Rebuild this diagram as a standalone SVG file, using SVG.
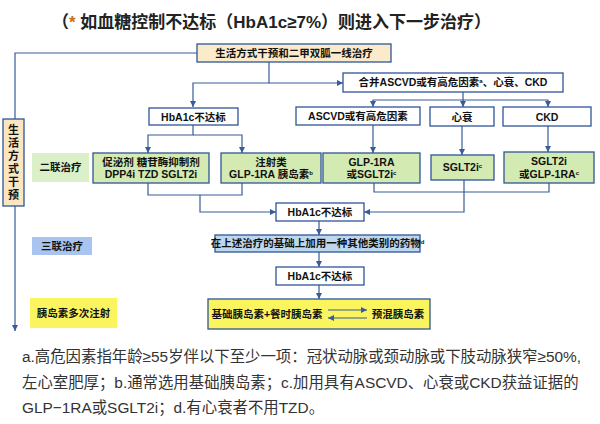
<svg xmlns="http://www.w3.org/2000/svg" width="600" height="424" viewBox="0 0 600 424">
<defs>
<style>
.bx{stroke:#2F5597;stroke-width:1.3}
.w{fill:#fff}
.g{fill:#D3EAB3}
.t{font-family:"Liberation Sans","Noto Sans CJK SC",sans-serif;font-weight:bold;font-size:10.5px;fill:#111;text-anchor:middle}
.v{font-size:11px}
.s{font-size:6px}
.c{fill:none;stroke:#3A5A98;stroke-width:1.2}
.fn{font-family:"Liberation Sans","Noto Sans CJK SC",sans-serif;font-size:15.4px;fill:#333}
</style>
<marker id="ah" markerUnits="userSpaceOnUse" markerWidth="6" markerHeight="6" refX="6" refY="3" orient="auto">
<path d="M0,0 L6,3 L0,6 z" fill="#3A5A98"/>
</marker>
</defs>
<rect width="600" height="424" fill="#fff"/>
<text x="52" y="28" font-family="Liberation Sans,Noto Sans CJK SC,sans-serif" font-weight="bold" font-size="17" fill="#222">（<tspan fill="#C07020">*</tspan> 如血糖控制不达标（HbA1c≥7%）则进入下一步治疗）</text>

<g id="connectors" class="c">
<path d="M197,53 H15 V119"/>
<path d="M15,206 V331" marker-end="url(#ah)"/>
<path d="M269,61 V83 H193 V107" marker-end="url(#ah)"/>
<path d="M269,83 H343" marker-end="url(#ah)"/>
<path d="M193,125 V135 H148 V153" marker-end="url(#ah)"/>
<path d="M193,135 H242 V153" marker-end="url(#ah)"/>
<path d="M148,183 V195 H242 V183"/>
<path d="M200,195 V212 H276" marker-end="url(#ah)"/>
<path d="M463,92 V100 H373 V107" marker-end="url(#ah)"/>
<path d="M463,100 V107" marker-end="url(#ah)"/>
<path d="M463,100 H548 V107" marker-end="url(#ah)"/>
<path d="M373,125 V153" marker-end="url(#ah)"/>
<path d="M462,126 V155" marker-end="url(#ah)"/>
<path d="M548,126 V152" marker-end="url(#ah)"/>
<path d="M374,183 V192 H549 V183"/>
<path d="M464,180 V212 H364" marker-end="url(#ah)"/>
<path d="M319,221 V235" marker-end="url(#ah)"/>
<path d="M319,252 V267" marker-end="url(#ah)"/>
<path d="M319,285 V299" marker-end="url(#ah)"/>
</g>

<g id="n-top"><rect class="bx" x="197" y="44" width="194" height="18" fill="#FCEBCB"/><text class="t" x="294" y="57">生活方式干预和二甲双胍一线治疗</text></g>
<g id="n-life"><rect class="bx" x="3" y="119" width="21" height="87" fill="#FBE6C2"/>
<text class="t v" x="13.5" y="134">生</text><text class="t v" x="13.5" y="147">活</text><text class="t v" x="13.5" y="160">方</text><text class="t v" x="13.5" y="173">式</text><text class="t v" x="13.5" y="186">干</text><text class="t v" x="13.5" y="199">预</text></g>

<g id="n-hb1"><rect class="bx w" x="149" y="108" width="89" height="17"/><text class="t" x="193.5" y="120.5">HbA1c不达标</text></g>
<g id="n-risk"><rect class="bx w" x="343" y="73" width="220" height="19"/><text class="t" x="453" y="86">合并ASCVD或有高危因素<tspan class="s" dy="-3">a</tspan><tspan dy="3">、心衰、CKD</tspan></text></g>
<g id="n-ascvd"><rect class="bx w" x="296" y="107" width="124" height="18"/><text class="t" x="358" y="120">ASCVD或有高危因素</text></g>
<g id="n-hf"><rect class="bx w" x="430" y="107" width="64" height="19"/><text class="t" x="462" y="120.5">心衰</text></g>
<g id="n-ckd"><rect class="bx w" x="503" y="107" width="88" height="19"/><text class="t" x="547" y="120.5">CKD</text></g>

<g id="lbl-2"><rect x="32" y="153" width="57" height="29" fill="#D9F0C9"/><text class="t" x="60.5" y="171" font-weight="normal" font-size="10">二联治疗</text></g>
<g id="n-oral"><rect class="bx g" x="93" y="153" width="116" height="30"/><text class="t" x="151" y="166">促泌剂 糖苷酶抑制剂</text><text class="t" x="151" y="178">DPP4i TZD SGLT2i</text></g>
<g id="n-inj"><rect class="bx g" x="221" y="153" width="100" height="30"/><text class="t" x="271" y="166">注射类</text><text class="t" x="271" y="178">GLP-1RA 胰岛素<tspan class="s" dy="-3">b</tspan></text></g>
<g id="n-glp"><rect class="bx g" x="323" y="153" width="97" height="30"/><text class="t" x="371.5" y="166">GLP-1RA</text><text class="t" x="371.5" y="178">或SGLT2i<tspan class="s" dy="-3">c</tspan></text></g>
<g id="n-sglt"><rect class="bx g" x="431" y="155" width="63" height="25"/><text class="t" x="462.5" y="171">SGLT2i<tspan class="s" dy="-3">c</tspan></text></g>
<g id="n-ckdg"><rect class="bx g" x="504" y="152" width="90" height="31"/><text class="t" x="549" y="165">SGLT2i</text><text class="t" x="549" y="178">或GLP-1RA<tspan class="s" dy="-3">c</tspan></text></g>

<g id="n-hb2"><rect class="bx w" x="276" y="203" width="88" height="18"/><text class="t" x="320" y="216">HbA1c不达标</text></g>
<g id="lbl-3"><rect x="32" y="237" width="60" height="18" fill="#A9C4EE"/><text class="t" x="62" y="249.5" font-weight="normal" font-size="10">三联治疗</text></g>
<g id="n-add"><rect class="bx" x="215" y="235" width="205" height="17" fill="#BDD7EE"/><text class="t" x="317.5" y="247.3" font-size="8.8">在上述治疗的基础上加用一种其他类别的药物<tspan class="s" dy="-3">d</tspan></text></g>
<g id="n-hb3"><rect class="bx w" x="276" y="267" width="88" height="18"/><text class="t" x="320" y="280">HbA1c不达标</text></g>
<g id="lbl-ins"><rect x="30" y="298" width="87" height="30" fill="#FAF55E"/><text class="t" x="73.5" y="317" font-weight="normal" font-size="10">胰岛素多次注射</text></g>
<g id="n-ins"><rect class="bx" x="208" y="299" width="222" height="30" fill="#FAF55E"/>
<text class="t" x="267" y="317.5" font-size="10">基础胰岛素+餐时胰岛素</text>
<text class="t" x="398" y="317.5" font-size="10">预混胰岛素</text>
<path class="c" d="M328,310 H367" marker-end="url(#ah)"/>
<path class="c" d="M367,318 H328" marker-end="url(#ah)"/>
</g>

<g id="footnote">
<text class="fn" x="22" y="362">a.高危因素指年龄≥55岁伴以下至少一项：冠状动脉或颈动脉或下肢动脉狭窄≥50%,</text>
<text class="fn" x="22" y="388">左心室肥厚；b.通常选用基础胰岛素；c.加用具有ASCVD、心衰或CKD获益证据的</text>
<text class="fn" x="22" y="413">GLP−1RA或SGLT2i；d.有心衰者不用TZD。</text>
</g>
</svg>
